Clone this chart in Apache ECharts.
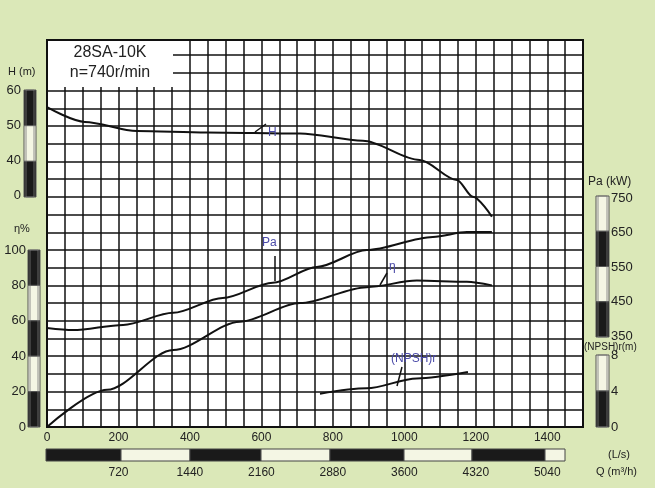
<!DOCTYPE html>
<html>
<head>
<meta charset="utf-8">
<script src="https://cdn.jsdelivr.net/npm/echarts@6/dist/echarts.min.js"></script>
<style>
  html, body { margin: 0; padding: 0; background: #dbe8b8; }
  #chart { width: 655px; height: 488px; }
</style>
</head>
<body>
<div id="chart"></div>
<script>
// 28SA-10K 性能曲线
const qH = [0, 106, 252, 447, 708, 884, 1043, 1147, 1192, 1245]
const headH = [55.1, 50.9, 48.3, 47.9, 47.6, 45.5, 40, 34.3, 29.5, 23.8]

const qPa = [0, 73, 213, 353, 492, 632, 755, 895, 1080, 1175, 1245]
const powerPa = [373, 367, 382, 417, 460, 504, 550, 599, 637, 651, 651]

const qEta = [0, 168, 353, 540, 708, 895, 1035, 1175, 1245]
const eta = [0, 21, 43.5, 59.5, 70, 79, 82.7, 82, 80]

const qNpsh = [764, 895, 1035, 1178]
const npsh = [3.7, 4.3, 5.4, 6.1]

const lsTicks = [0, 200, 400, 600, 800, 1000, 1200, 1400]
const m3hTicks = [720, 1440, 2160, 2880, 3600, 4320, 5040]
const hTicks = [30, 40, 50, 60]
const etaTicks = [0, 20, 40, 60, 80, 100]
const paTicks = [350, 450, 550, 650, 750]
const npshTicks = [0, 4, 8]

const pairs = (xs, ys) => xs.map((x, i) => [x, ys[i]])
const font = 'Liberation Sans, Arial, sans-serif'
const txt = '#222'
const ann = '#4a4aa8'

const myCharts = echarts.init(document.getElementById('chart'))

// 刻度条
function bar(x, y, w, h, segs) {
  const out = []
  const sh = h / segs.length
  segs.forEach((s, i) => {
    out.push({type: 'rect', shape: {x: x, y: y + i * sh, width: w, height: sh},
      style: {fill: s ? '#1a1a1a' : '#f4f6e4', stroke: '#555', lineWidth: 1}})
  })
  out.push({type: 'rect', shape: {x: x + 2, y: y, width: w - 4, height: h},
    style: {fill: 'none', stroke: '#777', lineWidth: 0.8}})
  return out
}
function hbar(x, y, segs, widths) {
  let cx = x
  return segs.map((s, i) => {
    const r = {type: 'rect', shape: {x: cx, y: y, width: widths[i], height: 12},
      style: {fill: s ? '#1a1a1a' : '#f4f6e4', stroke: '#444', lineWidth: 1}}
    cx += widths[i]
    return r
  })
}
function label(x, y, text, size, color, align) {
  return {type: 'text', x: x, y: y, z: 110,
    style: {text: text, font: (size || 12) + 'px ' + font, fill: color || txt, align: align || 'left', verticalAlign: 'middle'}}
}
function line(x1, y1, x2, y2) {
  return {type: 'line', z: 110, shape: {x1, y1, x2, y2}, style: {stroke: '#111', lineWidth: 1.5}}
}

const graphics = [].concat(
  [{type: 'rect', z: 100, shape: {x: 48, y: 41, width: 125, height: 46}, style: {fill: '#fff'}},
   label(110, 53, '28SA-10K', 16, txt, 'center'),
   label(110, 73, 'n=740r/min', 16, txt, 'center')],
  bar(24, 90, 12, 107, [1, 0, 1]),
  bar(28, 250, 12, 177, [1, 0, 1, 0, 1]),
  bar(596, 196, 13, 141, [0, 1, 0, 1]),
  bar(596, 355, 13, 72, [0, 1]),
  hbar(46, 449, [1, 0, 1, 0, 1, 0, 1, 0], [75, 69, 71, 69, 74, 68, 73, 20]),
  [label(8, 72, 'H (m)', 11), label(14, 229, 'η%', 11),
   label(588, 182, 'Pa (kW)', 12), label(584, 347, '(NPSH)r(m)', 10),
   label(608, 455, '(L/s)', 11), label(596, 472, 'Q (m³/h)', 11),
   label(268, 133, 'H', 12, ann), line(255, 132, 266, 124),
   label(262, 243, 'Pa', 12, ann), line(275, 256, 275, 281),
   label(389, 267, 'η', 12, ann), line(380, 285, 387, 273),
   label(391, 359, '(NPSH)r', 12, ann), line(397, 386, 402, 367)]
)

const plain = v => String(v)

myCharts.setOption({
  backgroundColor: '#dbe8b8',
  animation: false,
  grid: {left: 47, right: 72, top: 40, bottom: 61, show: true,
    backgroundColor: '#fff', borderColor: '#111', borderWidth: 2},
  xAxis: [
    {type: 'value', min: 0, max: 1500, interval: 50,
      axisLine: {show: false}, axisTick: {show: false},
      splitLine: {show: true, lineStyle: {color: '#111', width: 1.5}},
      axisLabel: {customValues: lsTicks, formatter: plain, color: txt, fontSize: 12, fontFamily: font, margin: 5}},
    {type: 'value', min: 0, max: 5400, position: 'bottom', offset: 38,
      axisLine: {show: false}, axisTick: {show: false}, splitLine: {show: false},
      axisLabel: {customValues: m3hTicks, formatter: plain, color: txt, fontSize: 12, fontFamily: font, margin: 2}}
  ],
  yAxis: [
    {type: 'value', min: 0, max: 218.6, interval: 10, position: 'left',
      axisLine: {show: false}, axisTick: {show: false},
      splitLine: {show: true, lineStyle: {color: '#111', width: 1.5}},
      axisLabel: {customValues: etaTicks, formatter: plain, color: txt, fontSize: 13, fontFamily: font, margin: 21}},
    {type: 'value', min: -36.3, max: 74.3, position: 'left',
      axisLine: {show: false}, axisTick: {show: false}, splitLine: {show: false},
      axisLabel: {customValues: hTicks, color: txt, fontSize: 13, fontFamily: font, margin: 26,
        formatter: v => v === 30 ? '0' : String(v)}},
    {type: 'value', min: 86, max: 1208, position: 'right',
      axisLine: {show: false}, axisTick: {show: false}, splitLine: {show: false},
      axisLabel: {customValues: paTicks, formatter: plain, color: txt, fontSize: 13, fontFamily: font, margin: 28}},
    {type: 'value', min: 0, max: 43, position: 'right',
      axisLine: {show: false}, axisTick: {show: false}, splitLine: {show: false},
      axisLabel: {customValues: npshTicks, formatter: plain, color: txt, fontSize: 13, fontFamily: font, margin: 28}}
  ],
  series: [
    {name: 'H', type: 'line', yAxisIndex: 1, data: pairs(qH, headH)},
    {name: 'Pa', type: 'line', yAxisIndex: 2, data: pairs(qPa, powerPa)},
    {name: 'η', type: 'line', yAxisIndex: 0, data: pairs(qEta, eta)},
    {name: '(NPSH)r', type: 'line', yAxisIndex: 3, data: pairs(qNpsh, npsh)}
  ].map(s => Object.assign(s, {smooth: 0.3, smoothMonotone: 'x', symbol: 'none', z: 3,
    lineStyle: {color: '#111', width: 2}})),
  graphic: graphics
})
</script>
</body>
</html>
